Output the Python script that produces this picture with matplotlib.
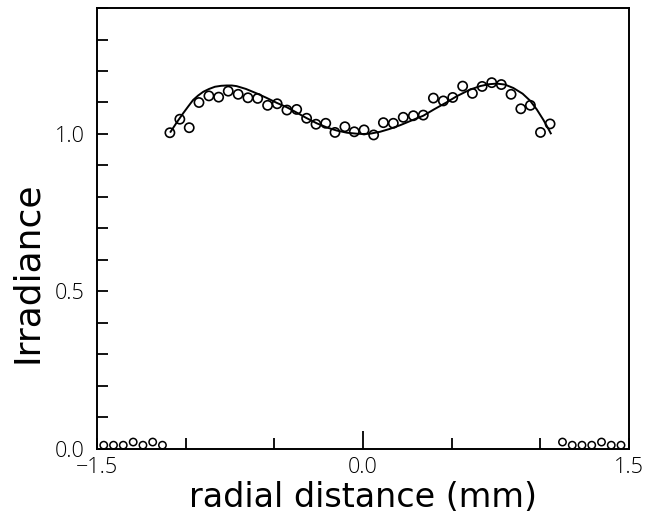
import matplotlib
matplotlib.use("Agg")
from matplotlib import pyplot as plt

# measured points (radial distance in mm, irradiance)
x_pts = [-1.089, -1.033, -0.980, -0.925, -0.869, -0.814, -0.760, -0.704, -0.649,
         -0.594, -0.538, -0.484, -0.429, -0.374, -0.318, -0.265, -0.210, -0.158,
         -0.102, -0.049, 0.006, 0.060, 0.115, 0.171, 0.227, 0.284, 0.340, 0.397,
         0.453, 0.506, 0.562, 0.617, 0.672, 0.726, 0.780, 0.835, 0.890, 0.944,
         1.001, 1.055]
y_pts = [1.004, 1.047, 1.020, 1.100, 1.121, 1.117, 1.136, 1.126, 1.115,
         1.113, 1.091, 1.096, 1.076, 1.078, 1.050, 1.031, 1.034, 1.005,
         1.023, 1.007, 1.013, 0.997, 1.036, 1.034, 1.053, 1.058, 1.060, 1.114,
         1.105, 1.116, 1.152, 1.129, 1.151, 1.163, 1.157, 1.126, 1.080, 1.091,
         1.005, 1.032]

# points outside the beam
x_out = [-1.462, -1.407, -1.352, -1.296, -1.241, -1.186, -1.131,
         1.125, 1.180, 1.235, 1.290, 1.345, 1.400, 1.455]
y_out = [0.012, 0.012, 0.012, 0.022, 0.012, 0.022, 0.012,
         0.022, 0.012, 0.012, 0.012, 0.022, 0.012, 0.012]

# fitted curve
x_fit = [-1.085, -1.05, -1.014, -0.985, -0.958, -0.93, -0.901, -0.868, -0.835,
         -0.80, -0.769, -0.74, -0.713, -0.66, -0.60, -0.545, -0.487, -0.43,
         -0.374, -0.32, -0.261, -0.20, -0.148, -0.09, -0.036, 0.0, 0.04, 0.096,
         0.15, 0.21, 0.27, 0.34, 0.40, 0.47, 0.529, 0.60, 0.66, 0.71, 0.754,
         0.80, 0.848, 0.90, 0.942, 0.98, 1.017, 1.04, 1.059]
y_fit = [1.007, 1.037, 1.066, 1.088, 1.108, 1.122, 1.134, 1.143, 1.150,
         1.153, 1.154, 1.154, 1.152, 1.143, 1.129, 1.115, 1.099, 1.085,
         1.068, 1.051, 1.034, 1.020, 1.011, 1.004, 1.001, 1.000, 1.001, 1.007,
         1.016, 1.028, 1.042, 1.058, 1.078, 1.100, 1.120, 1.140, 1.152, 1.158,
         1.160, 1.157, 1.146, 1.128, 1.106, 1.078, 1.045, 1.022, 1.002]

plt.rcParams['font.family'] = ['Open Sans', 'DejaVu Sans']
plt.rcParams['font.weight'] = 'light'

fig = plt.figure(figsize=(6.52, 5.13), dpi=100)
ax = fig.add_axes([0.1488, 0.1248, 0.8159, 0.8596])

ax.plot(x_fit, y_fit, color="black", linewidth=1.4)
ax.scatter(x_pts, y_pts, s=44, facecolors="none", edgecolors="black", linewidths=1.2, zorder=3)
ax.scatter(x_out, y_out, s=28, facecolors="none", edgecolors="black", linewidths=1.1, zorder=3,
           clip_on=False)

ax.set_xlim(-1.5, 1.5)
ax.set_ylim(0.0, 1.4)

ax.set_xticks([-1.5, -1.0, -0.5, 0.0, 0.5, 1.0, 1.5])
ax.set_xticklabels(["\u22121.5", "", "", "0.0", "", "", "1.5"])
ax.set_yticks([i / 10 for i in range(15)])
ax.set_yticklabels(["0.0", "", "", "", "", "0.5", "", "", "", "", "1.0", "", "", "", ""])

ax.tick_params(direction="in", length=8, width=1.3, labelsize=15.5)
ax.tick_params(axis="x", pad=6)
ax.tick_params(axis="y", pad=9)
ax.xaxis.get_major_ticks()[3].tick1line.set_markersize(13)
for s in ax.spines.values():
    s.set_linewidth(1.4)

ax.set_xlabel("radial distance (mm)", fontsize=24, family="DejaVu Sans", labelpad=2)
ax.set_ylabel("Irradiance", fontsize=26, family="DejaVu Sans")
ax.yaxis.set_label_coords(-0.10, 0.40)

fig.savefig("out.png", dpi=100)
